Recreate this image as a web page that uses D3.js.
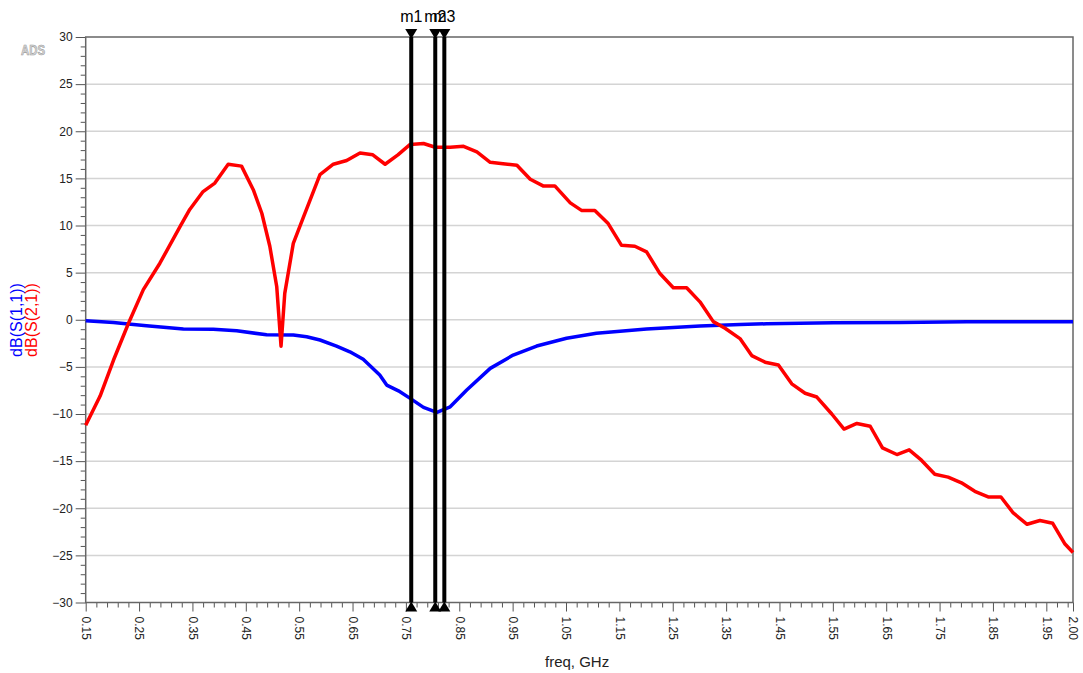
<!DOCTYPE html>
<html>
<head>
<meta charset="utf-8">
<script src="https://cdn.jsdelivr.net/npm/d3@7"></script>
<style>
  body { margin: 0; background: #fff; }
  svg { display: block; font-family: "Liberation Sans", Arial, sans-serif; }
</style>
</head>
<body>
<div id="chart"></div>
<script>
// dB(S(2,1)) trace
var s21Freq = [0.150, 0.177, 0.202, 0.230, 0.258, 0.289, 0.327, 0.345, 0.370, 0.392,
               0.417, 0.442, 0.464, 0.480, 0.495, 0.508, 0.516, 0.523, 0.539, 0.558,
               0.589, 0.614, 0.639, 0.664, 0.688, 0.711, 0.735, 0.758, 0.783, 0.805,
               0.833, 0.858, 0.883, 0.908, 0.932, 0.958, 0.983, 1.007, 1.029, 1.058,
               1.079, 1.104, 1.129, 1.154, 1.179, 1.201, 1.226, 1.251, 1.276, 1.301,
               1.326, 1.348, 1.376, 1.398, 1.423, 1.448, 1.473, 1.498, 1.520, 1.548,
               1.571, 1.595, 1.620, 1.643, 1.670, 1.693, 1.716, 1.741, 1.766, 1.791,
               1.816, 1.841, 1.865, 1.888, 1.914, 1.938, 1.962, 1.985, 2.000];
var s21Db = [-11.2, -8.1, -4.3, -0.4, 3.2, 6.0, 9.9, 11.7, 13.6, 14.5,
             16.5, 16.3, 13.8, 11.3, 7.8, 3.5, -2.8, 2.8, 8.1, 10.9,
             15.4, 16.5, 16.9, 17.7, 17.5, 16.5, 17.5, 18.6, 18.7, 18.3,
             18.3, 18.4, 17.8, 16.7, 16.55, 16.4, 14.9, 14.2, 14.2, 12.4,
             11.6, 11.6, 10.2, 7.9, 7.8, 7.2, 4.9, 3.4, 3.4, 1.9,
             -0.2, -0.9, -2.0, -3.8, -4.5, -4.8, -6.8, -7.8, -8.2, -10.0,
             -11.6, -11.0, -11.3, -13.6, -14.3, -13.8, -14.9, -16.4, -16.7, -17.3,
             -18.2, -18.8, -18.8, -20.5, -21.7, -21.3, -21.6, -23.8, -24.7];

// dB(S(1,1)) trace
var s11Freq = [0.150, 0.202, 0.230, 0.264, 0.333, 0.389, 0.433, 0.489, 0.539, 0.564,
               0.589, 0.620, 0.645, 0.670, 0.701, 0.714, 0.736, 0.758, 0.783, 0.808,
               0.833, 0.864, 0.908, 0.951, 0.995, 1.051, 1.107, 1.201, 1.301, 1.376,
               1.426, 1.551, 1.676, 1.801, 1.926, 2.000];
var s11Db = [-0.1, -0.28, -0.45, -0.64, -0.98, -1.02, -1.17, -1.6, -1.62, -1.8,
             -2.15, -2.79, -3.4, -4.2, -5.87, -6.93, -7.54, -8.34, -9.3, -9.83,
             -9.24, -7.46, -5.16, -3.75, -2.79, -1.97, -1.44, -0.99, -0.67, -0.5,
             -0.43, -0.32, -0.28, -0.22, -0.2, -0.21];

// markers
var markerNames = ["m1", "m2", "m3"];
var markerFreq = [0.760, 0.805, 0.822];

// tick labels
var xTickValues = [0.15, 0.25, 0.35, 0.45, 0.55, 0.65, 0.75, 0.85, 0.95, 1.05,
                   1.15, 1.25, 1.35, 1.45, 1.55, 1.65, 1.75, 1.85, 1.95, 2.00];
var yTickValues = [-30, -25, -20, -15, -10, -5, 0, 5, 10, 15, 20, 25, 30];

function chart() {
    var width = 1083;
    var height = 673;
    var left = 85.7, right = 1073, top = 37, bottom = 602.5;

    var canvas = d3.select("#chart")
                    .append("svg")
                    .attr("width", width)
                    .attr("height", height);

    var xScale = d3.scaleLinear().domain([0.15, 2.0]).range([left, right]);
    var yScale = d3.scaleLinear().domain([-30, 30]).range([bottom, top]);

    // horizontal grid
    canvas.append("g")
        .selectAll("line")
        .data(yTickValues.slice(1, -1))
        .enter()
        .append("line")
        .attr("x1", left)
        .attr("x2", right)
        .attr("y1", function(d) { return yScale(d); })
        .attr("y2", function(d) { return yScale(d); })
        .attr("stroke", "#d4d4d4")
        .attr("stroke-width", 1.5);

    // minor ticks
    var yMinor = d3.range(-30, 31, 1).filter(function(d) { return d % 5 !== 0; });
    var xMinor = d3.range(17, 200, 2).map(function(d) { return d / 100; })
                   .filter(function(d) { return Math.round(d * 100 - 15) % 10 !== 0; });

    var yMinorAxis = d3.axisLeft(yScale).tickValues(yMinor).tickSize(5).tickFormat("");
    var xMinorAxis = d3.axisBottom(xScale).tickValues(xMinor).tickSize(5).tickFormat("");

    canvas.append("g")
        .attr("transform", "translate(" + left + ",0)")
        .call(yMinorAxis)
        .call(function(g) { g.select(".domain").remove(); })
        .selectAll("line").attr("stroke", "#555");

    canvas.append("g")
        .attr("transform", "translate(0," + bottom + ")")
        .call(xMinorAxis)
        .call(function(g) { g.select(".domain").remove(); })
        .selectAll("line").attr("stroke", "#555");

    // Y axis
    var yAxis = d3.axisLeft(yScale)
                .tickValues(yTickValues)
                .tickSize(10)
                .tickPadding(3)
                .tickFormat(d3.format("d"));

    var gy = canvas.append("g")
        .attr("transform", "translate(" + left + ",0)")
        .call(yAxis);
    gy.select(".domain").remove();
    gy.selectAll("line").attr("stroke", "#555");
    gy.selectAll("text")
        .attr("font-size", 12)
        .attr("font-family", "Liberation Sans, Arial, sans-serif")
        .attr("fill", "#222");

    // X axis, labels rotated
    var xAxis = d3.axisBottom(xScale)
                .tickValues(xTickValues)
                .tickSize(9)
                .tickFormat(d3.format(".2f"));

    var gx = canvas.append("g")
        .attr("transform", "translate(0," + bottom + ")")
        .call(xAxis);
    gx.select(".domain").remove();
    gx.selectAll("line").attr("stroke", "#555");
    gx.selectAll("text")
        .attr("x", 14)
        .attr("y", 0)
        .attr("dy", "0.35em")
        .attr("transform", "rotate(90)")
        .style("text-anchor", "start")
        .attr("font-size", 12)
        .attr("font-family", "Liberation Sans, Arial, sans-serif")
        .attr("fill", "#222");

    // plot frame
    canvas.append("rect")
        .attr("x", left)
        .attr("y", top)
        .attr("width", right - left)
        .attr("height", bottom - top)
        .attr("fill", "none")
        .attr("stroke", "#666")
        .attr("stroke-width", 1.5);

    var line = d3.line()
        .x(function(d) { return xScale(d[0]); })
        .y(function(d) { return yScale(d[1]); });

    var s11 = s11Freq.map(function(f, i) { return [f, s11Db[i]]; });
    var s21 = s21Freq.map(function(f, i) { return [f, s21Db[i]]; });

    canvas.append("path")
        .datum(s11)
        .attr("d", line)
        .attr("fill", "none")
        .attr("stroke", "#0000ff")
        .attr("stroke-width", 3.5)
        .attr("stroke-linejoin", "round");

    canvas.append("path")
        .datum(s21)
        .attr("d", line)
        .attr("fill", "none")
        .attr("stroke", "#ff0000")
        .attr("stroke-width", 3.5)
        .attr("stroke-linejoin", "round");

    // markers
    var markers = canvas.selectAll(".marker")
        .data(markerFreq)
        .enter()
        .append("g")
        .attr("class", "marker")
        .attr("transform", function(d) { return "translate(" + xScale(d) + ",0)"; });

    markers.append("line")
        .attr("x1", 0).attr("x2", 0)
        .attr("y1", top).attr("y2", bottom)
        .attr("stroke", "#000")
        .attr("stroke-width", 4);

    markers.append("path")
        .attr("d", "M-6," + (top - 8) + "L6," + (top - 8) + "L0," + (top + 2) + "Z")
        .attr("fill", "#000");

    markers.append("path")
        .attr("d", "M-6," + (bottom + 9) + "L6," + (bottom + 9) + "L0," + (bottom - 1) + "Z")
        .attr("fill", "#000");

    // labels overlap in the original too (markers sit very close)
    markers.append("text")
        .attr("x", 0)
        .attr("y", 22)
        .attr("text-anchor", "middle")
        .attr("font-size", 16)
        .attr("fill", "#000")
        .text(function(d, i) { return markerNames[i]; });

    // axis titles
    canvas.append("text")
        .attr("x", 545)
        .attr("y", 667)
        .attr("font-size", 15)
        .attr("fill", "#222")
        .text("freq, GHz");

    canvas.append("text")
        .attr("transform", "translate(22,320) rotate(-90)")
        .attr("text-anchor", "middle")
        .attr("font-size", 16)
        .attr("fill", "#0000ff")
        .text("dB(S(1,1))");

    canvas.append("text")
        .attr("transform", "translate(37,320) rotate(-90)")
        .attr("text-anchor", "middle")
        .attr("font-size", 16)
        .attr("fill", "#ff0000")
        .text("dB(S(2,1))");

    // ADS badge
    canvas.append("text")
        .attr("x", 21)
        .attr("y", 55)
        .attr("font-size", 14)
        .attr("font-weight", "bold")
        .attr("fill", "#d8d8d8")
        .attr("stroke", "#999")
        .attr("stroke-width", 0.6)
        .attr("textLength", 24)
        .attr("lengthAdjust", "spacingAndGlyphs")
        .text("ADS");
}

window.onload = chart;
</script>
</body>
</html>
